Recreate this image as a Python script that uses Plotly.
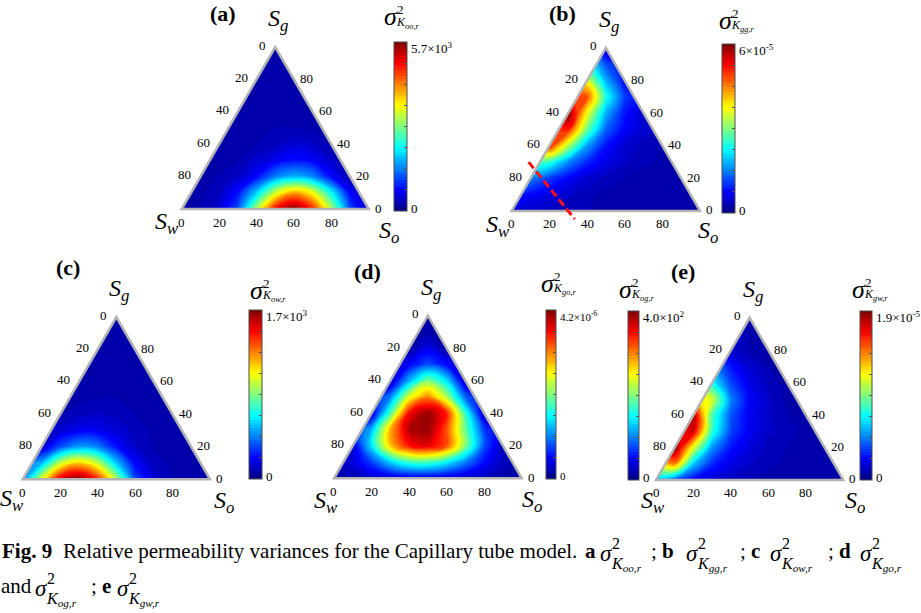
import math
import numpy as np
import plotly.graph_objects as go

# ---------------------------------------------------------------- data
# Samples inside the ternary triangle.  One row per gas saturation level Sg (row height
# Sg*sqrt(3)/2); within a row the samples sit every 10 units across the base, starting at
# the first multiple of 10 inside the triangle.  Values are fractions of each colour-bar max.
SG_LEVELS = [0, 10, 20, 30, 40, 50, 60, 70, 80, 90, 100]
X_STEP = 10
TICK_VALUES = [0, 20, 40, 60, 80]

KOO_ROWS = [
    [0.04, 0.05, 0.08, 0.20, 0.55, 0.88, 1.00, 0.85, 0.55, 0.20, 0.06],
    [0.045, 0.06, 0.14, 0.33, 0.58, 0.72, 0.62, 0.38, 0.12],
    [0.04, 0.05, 0.07, 0.13, 0.25, 0.30, 0.26, 0.13, 0.05],
    [0.04, 0.05, 0.075, 0.11, 0.14, 0.12, 0.07],
    [0.04, 0.04, 0.05, 0.06, 0.08, 0.07, 0.05],
    [0.04, 0.045, 0.05, 0.05, 0.045],
    [0.04, 0.04, 0.04, 0.04, 0.04],
    [0.04, 0.04, 0.04],
    [0.04, 0.04, 0.04],
    [0.035],
    [0.035],
]
KGG_ROWS = [
    [0.08, 0.07, 0.06, 0.05, 0.05, 0.04, 0.04, 0.04, 0.04, 0.04, 0.04],
    [0.125, 0.095, 0.07, 0.055, 0.045, 0.04, 0.04, 0.04, 0.04],
    [0.25, 0.18, 0.12, 0.08, 0.06, 0.05, 0.04, 0.04, 0.04],
    [0.42, 0.26, 0.16, 0.10, 0.07, 0.055, 0.045],
    [0.85, 0.55, 0.28, 0.14, 0.08, 0.06, 0.05],
    [0.85, 0.48, 0.22, 0.12, 0.075],
    [1.00, 0.62, 0.30, 0.14, 0.08],
    [0.80, 0.40, 0.18],
    [0.60, 0.30, 0.13],
    [0.20],
    [0.06],
]
KOW_ROWS = [
    [0.25, 0.60, 0.92, 1.00, 0.85, 0.55, 0.20, 0.08, 0.05, 0.04, 0.04],
    [0.30, 0.57, 0.68, 0.57, 0.32, 0.12, 0.06, 0.045, 0.04],
    [0.08, 0.20, 0.28, 0.25, 0.14, 0.07, 0.05, 0.04, 0.04],
    [0.08, 0.11, 0.11, 0.085, 0.06, 0.045, 0.04],
    [0.05, 0.06, 0.07, 0.06, 0.05, 0.04, 0.04],
    [0.045, 0.05, 0.05, 0.045, 0.04],
    [0.04, 0.04, 0.04, 0.04, 0.04],
    [0.04, 0.04, 0.04],
    [0.04, 0.04, 0.04],
    [0.035],
    [0.035],
]
KGO_ROWS = [
    [0.03, 0.05, 0.07, 0.08, 0.09, 0.09, 0.08, 0.07, 0.06, 0.04, 0.03],
    [0.085, 0.185, 0.33, 0.43, 0.44, 0.37, 0.25, 0.13, 0.06],
    [0.08, 0.35, 0.68, 0.86, 0.90, 0.80, 0.50, 0.20, 0.05],
    [0.30, 0.70, 0.95, 0.98, 0.80, 0.48, 0.18],
    [0.08, 0.45, 0.88, 0.98, 0.85, 0.42, 0.06],
    [0.25, 0.60, 0.75, 0.55, 0.22],
    [0.06, 0.30, 0.50, 0.35, 0.06],
    [0.12, 0.20, 0.13],
    [0.04, 0.10, 0.04],
    [0.04],
    [0.03],
]
KGW_ROWS = [
    [0.30, 0.20, 0.12, 0.08, 0.06, 0.05, 0.04, 0.04, 0.04, 0.04, 0.04],
    [0.75, 0.32, 0.16, 0.10, 0.07, 0.055, 0.045, 0.04, 0.04],
    [1.00, 0.60, 0.27, 0.14, 0.09, 0.06, 0.05, 0.04, 0.04],
    [0.92, 0.42, 0.19, 0.11, 0.07, 0.055, 0.045],
    [0.95, 0.45, 0.21, 0.11, 0.07, 0.05, 0.04],
    [0.58, 0.25, 0.12, 0.07, 0.045],
    [0.38, 0.19, 0.10, 0.06, 0.04],
    [0.14, 0.08, 0.05],
    [0.08, 0.05, 0.04],
    [0.045],
    [0.04],
]

KOO_MAX, KOO_LABEL = 5.7e3, "5.7×10<sup>3</sup>"
KGG_MAX, KGG_LABEL = 6e-5, "6×10<sup>-5</sup>"
KOW_MAX, KOW_LABEL = 1.7e3, "1.7×10<sup>3</sup>"
KGO_MAX, KGO_LABEL = 4.2e-6, "4.2×10<sup>-6</sup>"
KOG_MAX, KOG_LABEL = 4.0e2, "4.0×10<sup>2</sup>"
KGW_MAX, KGW_LABEL = 1.9e-5, "1.9×10<sup>-5</sup>"

# dashed guide in panel (b): where it meets the So = 0 edge and the Sg = 0 edge
GUIDE_SG = [25, 0]
GUIDE_SO = [0, 30]

# ---------------------------------------------------------------- styling
W, H = 921, 613
FONT = "Liberation Serif"
R3 = np.sqrt(3) / 2
PAD = 6
N_LEVELS = 60
JET = [[0.0, "rgb(0,0,128)"], [0.125, "rgb(0,0,255)"], [0.375, "rgb(0,255,255)"],
       [0.625, "rgb(255,255,0)"], [0.875, "rgb(255,0,0)"], [1.0, "rgb(128,0,0)"]]

annotations, shapes = [], []


def text(x, y, s, size, xanchor="center", yanchor="middle"):
    annotations.append(dict(x=x / W, y=1 - y / H, xref="paper", yref="paper", text=s,
                            showarrow=False, xanchor=xanchor, yanchor=yanchor,
                            font=dict(family=FONT, size=size, color="black")))


def data_text(n, x, y, s, size, dx=0, dy=0, xanchor="center"):
    annotations.append(dict(x=x, y=y, xref="x" + n, yref="y" + n, text=s, showarrow=False,
                            xanchor=xanchor, yanchor="middle", xshift=dx, yshift=dy,
                            font=dict(family=FONT, size=size, color="black")))


def sigma(x, y, sub, size, sup_size, k_size, sup_dy, sub_dy):
    text(x, y, "<i>σ</i>", size, xanchor="left")
    text(x + 0.5 * size, y - sup_dy, "2", sup_size, xanchor="left")
    text(x + 0.46 * size, y + sub_dy, f"<i>K<sub>{sub}</sub></i>", k_size, xanchor="left")


def samples(rows, vmax):
    xs, ys, zs = [], [], []
    for sg, row in zip(SG_LEVELS, rows):
        x0 = math.ceil(sg / 2 / X_STEP) * X_STEP
        for j, frac in enumerate(row):
            xs.append(x0 + j * X_STEP)
            ys.append(sg * R3)
            zs.append(frac * vmax)
    return xs, ys, zs


# colour bars: (rows, max, label, subscript, left px, top px, bottom px, thickness, sigma xy, label size)
panels = [
    dict(tag="(a)", tag_xy=(223, 13), bl=(181.7, 209), w=187, sw=(-15, 14), so=(20, 23),
         bars=[(KOO_ROWS, KOO_MAX, KOO_LABEL, "oo,r", 394, 42, 211, 13, (382, 17), 13)]),
    dict(tag="(b)", tag_xy=(562, 13), bl=(511.7, 211), w=188.3, sw=(-14, 15), so=(8, 21),
         bars=[(KGG_ROWS, KGG_MAX, KGG_LABEL, "gg,r", 722, 44, 213, 13, (717, 20), 13)]),
    dict(tag="(c)", tag_xy=(68, 268), bl=(22.7, 479.3), w=187.3, sw=(-11, 21), so=(14, 23),
         bars=[(KOW_ROWS, KOW_MAX, KOW_LABEL, "ow,r", 248.5, 310, 479, 13, (248, 290), 13)]),
    dict(tag="(d)", tag_xy=(367, 271), bl=(334, 478.3), w=187.7, sw=(-8, 24), so=(10, 23),
         bars=[(KGO_ROWS, KOG_MAX, KOG_LABEL, "og,r", 627.5, 311, 480, 11, (617, 289), 13),
               (KGO_ROWS, KGO_MAX, KGO_LABEL, "go,r", 546, 310, 479, 10, (539, 283), 11)]),
    dict(tag="(e)", tag_xy=(683, 271), bl=(656, 480), w=187.3, sw=(-3, 22), so=(12, 22),
         bars=[(KGW_ROWS, KGW_MAX, KGW_LABEL, "gw,r", 859.5, 311, 480, 12, (850, 289), 13)]),
]

fig = go.Figure()
layout_axes = {}

for i, p in enumerate(panels):
    n = "" if i == 0 else str(i + 1)
    bx, by = p["bl"]
    s = p["w"] / 100
    layout_axes["xaxis" + n] = dict(domain=[(bx - PAD * s) / W, (bx + (100 + PAD) * s) / W],
                                    range=[-PAD, 100 + PAD], visible=False, fixedrange=True,
                                    anchor="y" + n)
    layout_axes["yaxis" + n] = dict(domain=[1 - (by + PAD * s) / H, 1 - (by - (100 * R3 + PAD) * s) / H],
                                    range=[-PAD, 100 * R3 + PAD], visible=False, fixedrange=True,
                                    anchor="x" + n)

    for rows, vmax, label, sub, left, top, bottom, thick, sxy, lsize in p["bars"]:
        xs, ys, zs = samples(rows, vmax)
        fig.add_trace(go.Contour(
            x=xs, y=ys, z=zs, connectgaps=True, colorscale=JET, zmin=0, zmax=vmax,
            autocontour=False,
            contours=dict(coloring="fill", start=0, end=vmax, size=vmax / N_LEVELS,
                          showlines=False),
            line=dict(width=0, smoothing=1.3),
            xaxis="x" + n, yaxis="y" + n, hoverinfo="skip",
            colorbar=dict(x=left / W, xanchor="left", xpad=0, y=1 - top / H, yanchor="top",
                          ypad=0, len=(bottom - top) / H, lenmode="fraction",
                          thickness=thick, thicknessmode="pixels", outlinewidth=1,
                          outlinecolor="#4d4d4d", borderwidth=0, tickmode="array",
                          tickvals=[vmax * k / 8 for k in range(1, 8)], ticks="inside",
                          ticklen=3, tickcolor="#555555", showticklabels=False)))
        text(left + thick + 2, top + 6, label, lsize, xanchor="left")
        text(left + thick + 2, bottom - 3, "0", lsize, xanchor="left")
        sigma(sxy[0], sxy[1], sub, 26, 13, 12, 7, 6)

    xr, yr = "x" + n, "y" + n
    # white masks outside the triangle
    shapes.append(dict(type="path", xref=xr, yref=yr, layer="above", line=dict(width=0),
                       fillcolor="white", path=f"M -5 0 L 0 0 L 50 {100*R3} L 50 95 L -5 95 Z"))
    shapes.append(dict(type="path", xref=xr, yref=yr, layer="above", line=dict(width=0),
                       fillcolor="white", path=f"M 105 0 L 100 0 L 50 {100*R3} L 50 95 L 105 95 Z"))
    shapes.append(dict(type="rect", xref=xr, yref=yr, layer="above", line=dict(width=0),
                       fillcolor="white", x0=-5, x1=105, y0=-6, y1=0))
    # triangle frame
    shapes.append(dict(type="path", xref=xr, yref=yr, layer="above",
                       line=dict(color="#b3b3b3", width=2.5), fillcolor="rgba(0,0,0,0)",
                       path=f"M 0 0 L 100 0 L 50 {100*R3} Z"))

    # tick labels: Sw on the left edge, Sg on the right edge, So along the base
    for v in TICK_VALUES:
        data_text(n, (100 - v) / 2, (100 - v) * R3, str(v), 13, dx=-7, dy=2, xanchor="right")
        data_text(n, 100 - v / 2, v * R3, str(v), 13, dx=4, dy=1, xanchor="left")
        data_text(n, v, 0, str(v), 13, dy=-13)

    data_text(n, 50, 100 * R3, "<i>S<sub>g</sub></i>", 24, dx=3, dy=27)
    data_text(n, 0, 0, "<i>S<sub>w</sub></i>", 24, dx=p["sw"][0], dy=-p["sw"][1])
    data_text(n, 100, 0, "<i>S<sub>o</sub></i>", 24, dx=p["so"][0], dy=-p["so"][1])
    text(p["tag_xy"][0], p["tag_xy"][1], "<b>(%s)</b>" % p["tag"][1], 22)

# red dashed guide in panel (b)
gx = [so + sg / 2 for sg, so in zip(GUIDE_SG, GUIDE_SO)]
gy = [sg * R3 for sg in GUIDE_SG]
ext = 0.2
shapes.append(dict(type="line", xref="x2", yref="y2", layer="above",
                   x0=gx[0] - ext * (gx[1] - gx[0]), y0=gy[0] - ext * (gy[1] - gy[0]),
                   x1=gx[1] + ext * (gx[1] - gx[0]), y1=gy[1] + ext * (gy[1] - gy[0]),
                   line=dict(color="#ff1010", width=3, dash="8px,4px")))

# caption
CAP = 21
cap_sigma = dict(size=23, sup_size=16, k_size=16, sup_dy=10, sub_dy=11)
text(0, 551, "<b>Fig. 9</b>", CAP, xanchor="left")
text(61, 551, "Relative permeability variances for the Capillary tube model.", CAP, xanchor="left")
text(583, 551, "<b>a</b>", CAP, xanchor="left")
sigma(598, 553, "oo,r", **cap_sigma)
text(649, 551, "; <b>b</b>", CAP, xanchor="left")
sigma(684, 553, "gg,r", **cap_sigma)
text(738, 551, "; <b>c</b>", CAP, xanchor="left")
sigma(768, 553, "ow,r", **cap_sigma)
text(826, 551, "; <b>d</b>", CAP, xanchor="left")
sigma(858, 553, "go,r", **cap_sigma)
text(-1, 586, "and", CAP, xanchor="left")
sigma(33, 588, "og,r", **cap_sigma)
text(89, 586, "; <b>e</b>", CAP, xanchor="left")
sigma(115, 588, "gw,r", **cap_sigma)

fig.update_layout(width=W, height=H, autosize=False, margin=dict(l=0, r=0, t=0, b=0),
                  paper_bgcolor="white", plot_bgcolor="white", showlegend=False,
                  annotations=annotations, shapes=shapes, **layout_axes)

fig.write_html("out.html")
